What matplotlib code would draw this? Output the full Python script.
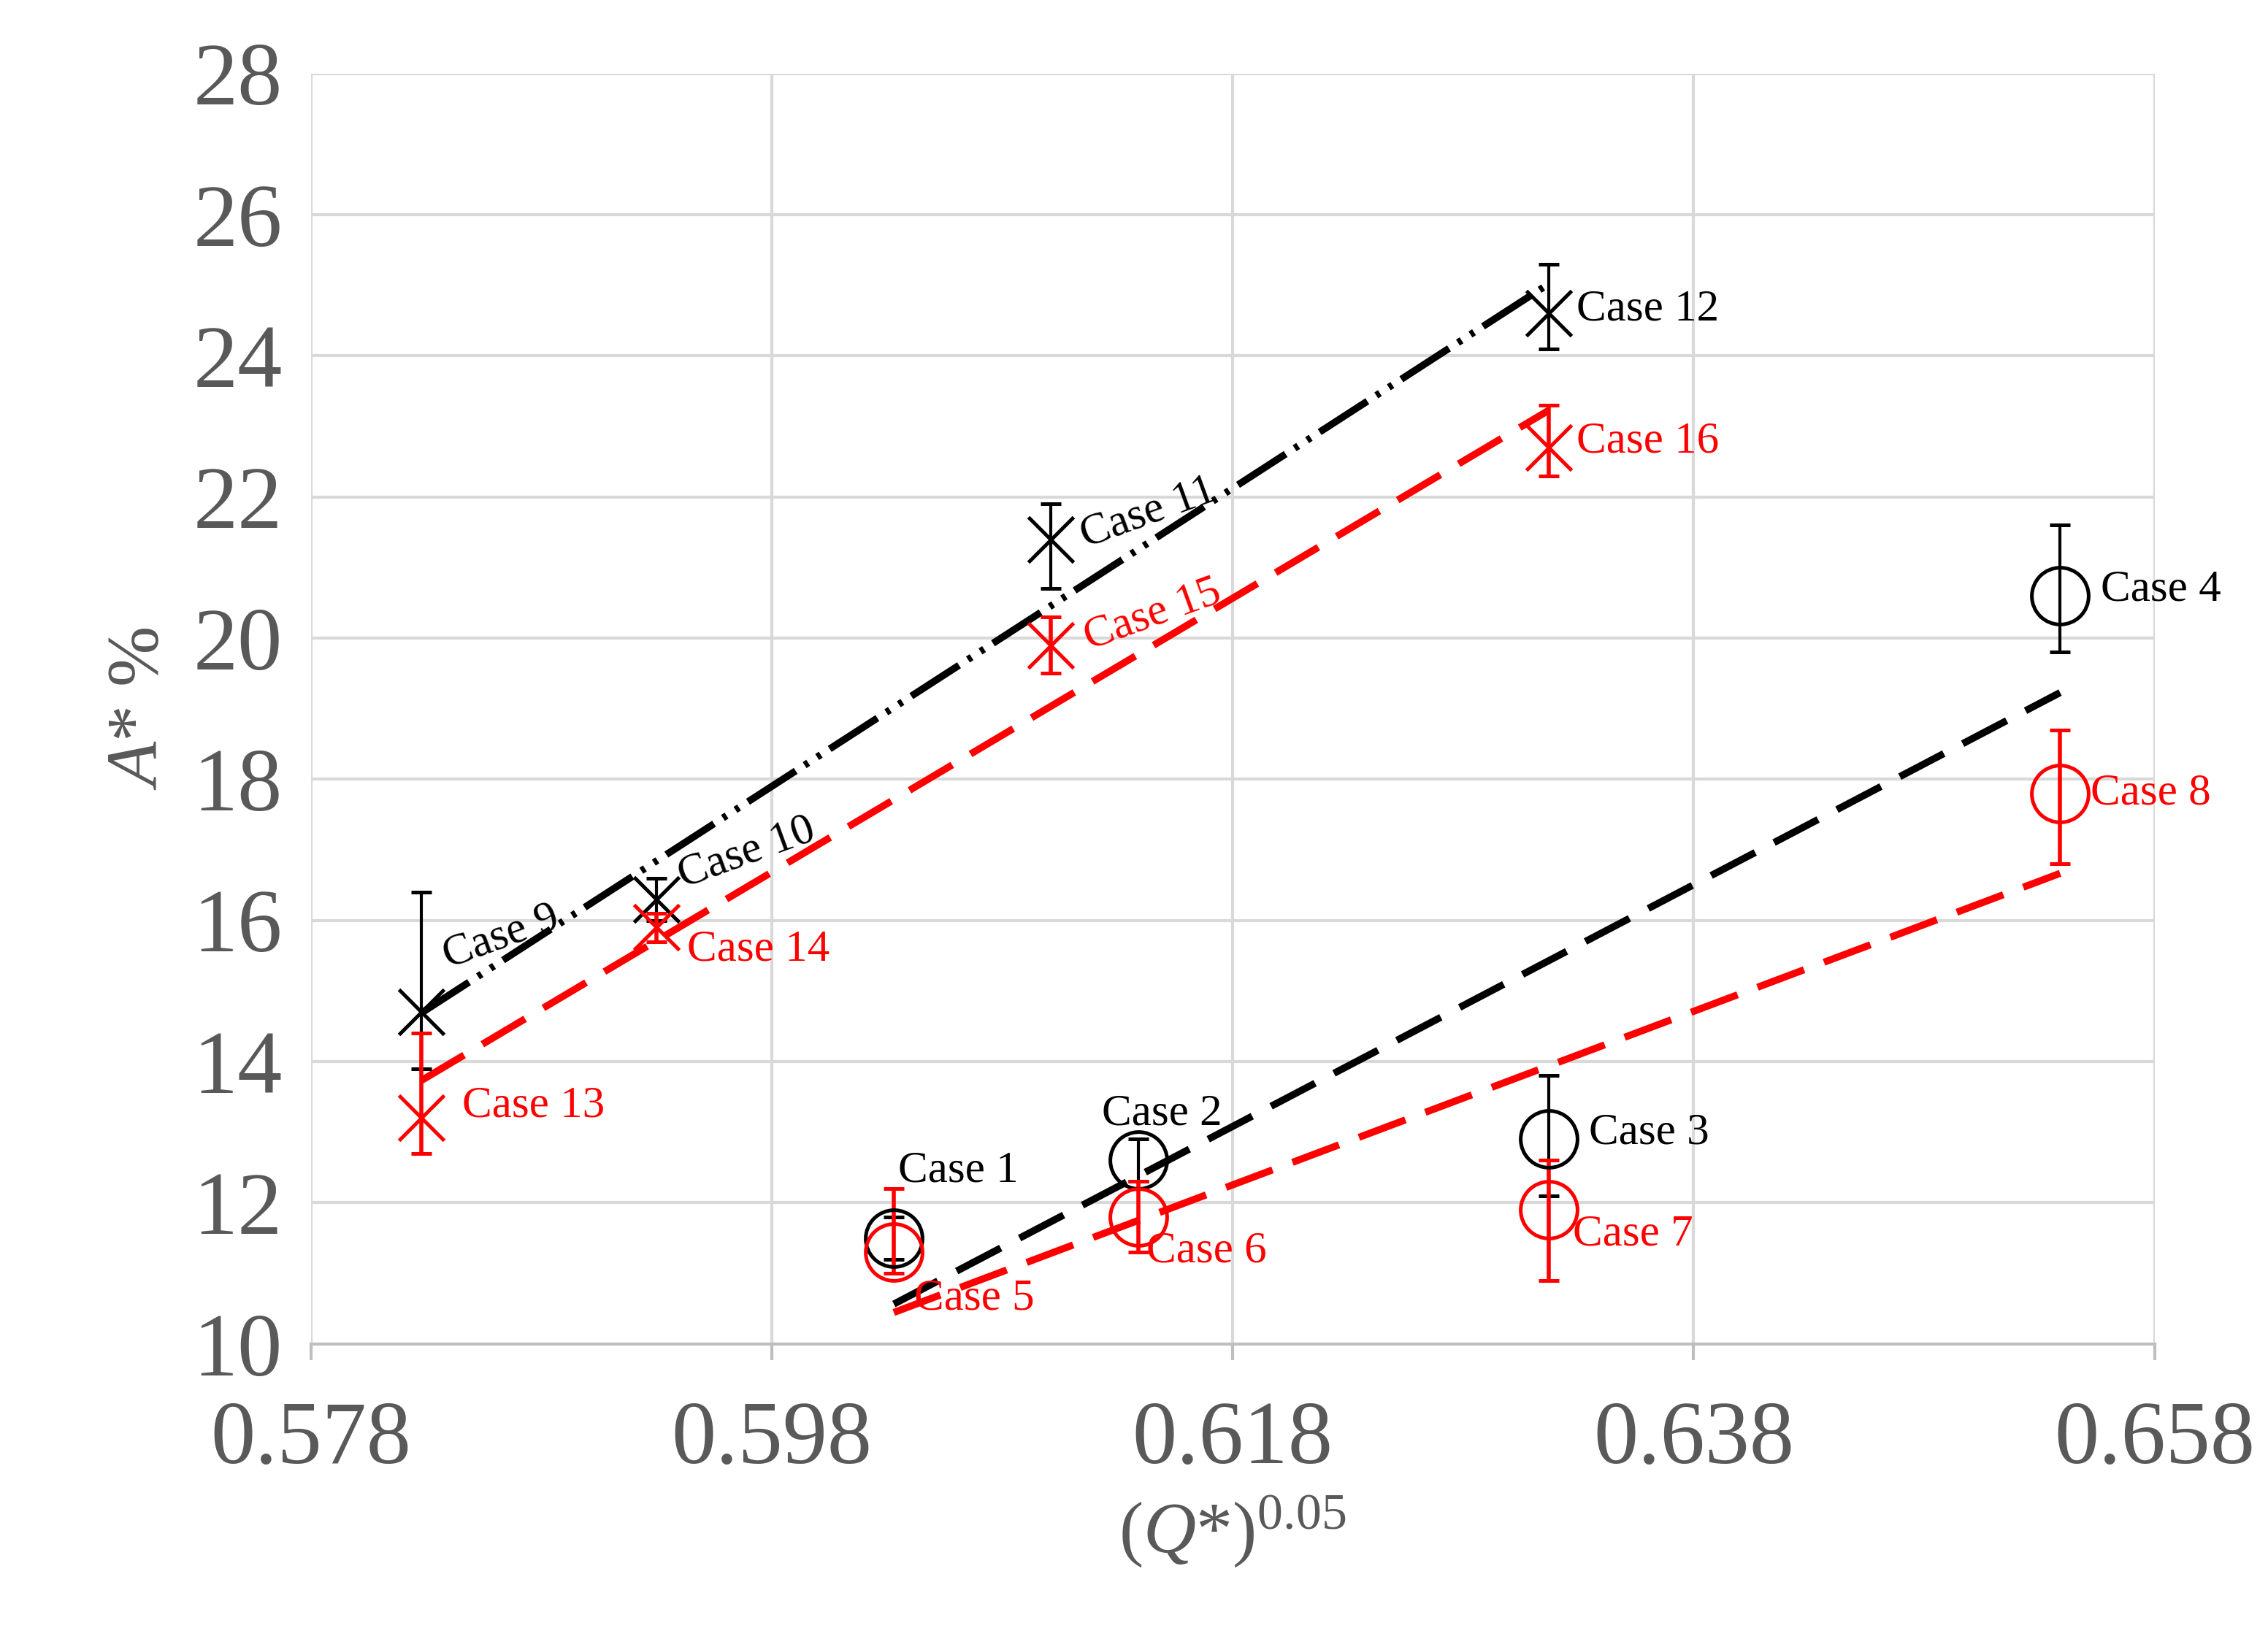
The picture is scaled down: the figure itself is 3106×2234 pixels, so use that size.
import matplotlib
matplotlib.use("Agg")
import matplotlib.pyplot as plt
import numpy as np

plt.rcParams['font.family'] = ['Liberation Serif', 'DejaVu Serif']
plt.rcParams['mathtext.fontset'] = 'custom'
plt.rcParams['mathtext.rm'] = 'Liberation Serif'
plt.rcParams['mathtext.it'] = 'Liberation Serif:italic'

# circle series
xc = [0.6033, 0.6139, 0.6317, 0.6539]
yc_black = [11.5, 12.6, 12.9, 20.6]
ec_black_lo = [0.3, 0.3, 0.8, 0.8]
ec_black_hi = [0.3, 0.3, 0.9, 1.0]
yc_red = [11.3, 11.8, 11.9, 17.8]
ec_red_lo = [0.3, 0.5, 1.0, 1.0]
ec_red_hi = [0.9, 0.5, 0.7, 0.9]
# cross series
xx = [0.5828, 0.5930, 0.6101, 0.6317]
yx_black = [14.7, 16.3, 21.4, 24.6]
ex_black_lo = [0.8, 0.3, 0.7, 0.5]
ex_black_hi = [1.7, 0.3, 0.5, 0.7]
yx_red = [13.2, 15.9, 19.9, 22.7]
ex_red_lo = [0.5, 0.2, 0.4, 0.4]
ex_red_hi = [1.2, 0.2, 0.4, 0.6]

labels_cb = ["Case 1", "Case 2", "Case 3", "Case 4"]
labels_cr = ["Case 5", "Case 6", "Case 7", "Case 8"]
labels_xb = ["Case 9", "Case 10", "Case 11", "Case 12"]
labels_xr = ["Case 13", "Case 14", "Case 15", "Case 16"]

fig = plt.figure(figsize=(15.53, 11.17), dpi=200)
ax = fig.add_axes([0.137, 0.176, 0.813, 0.779])
ax.set_xlim(0.578, 0.658)
ax.set_ylim(10, 28)
ax.set_xticks(np.arange(0.578, 0.6581, 0.02))
ax.set_xticklabels(["0.578", "0.598", "0.618", "0.638", "0.658"])
ax.set_yticks(range(10, 29, 2))
ax.grid(True, color='#d9d9d9', lw=1.5)
ax.set_axisbelow(True)
for s in ['top', 'right', 'left']:
    ax.spines[s].set_visible(False)
ax.spines['bottom'].set_color('#bfbfbf')
ax.spines['bottom'].set_linewidth(1.5)
ax.tick_params(length=0, labelsize=44, colors='#595959', pad=14)
ax.tick_params(axis='x', length=8, color='#bfbfbf', width=1.5, pad=20)

def trend(x, y, color, ls):
    p = np.polyfit(x, y, 1)
    xs = np.array([min(x), max(x)])
    ax.plot(xs, np.polyval(p, xs), color=color, ls=ls, lw=3.5, zorder=2)

trend(xc, yc_black, 'black', (0, (7, 3)))
trend(xc, yc_red, 'red', (0, (7, 3)))
trend(xx, yx_black, 'black', (0, (8, 1.5, 0.6, 1.5, 0.6, 1.5)))
trend(xx, yx_red, 'red', (0, (7, 3)))

ax.errorbar(xc, yc_black, yerr=[ec_black_lo, ec_black_hi], fmt='o', ms=28, mfc='none', mec='black', mew=1.8, ecolor='black', elinewidth=1.5, capsize=5, zorder=3)
ax.errorbar(xc, yc_red, yerr=[ec_red_lo, ec_red_hi], fmt='o', ms=28, mfc='none', mec='red', mew=1.8, ecolor='red', elinewidth=2, capsize=5, zorder=3)
ax.errorbar(xx, yx_black, yerr=[ex_black_lo, ex_black_hi], fmt='x', ms=22, mec='black', mew=1.8, ecolor='black', elinewidth=1.5, capsize=5, zorder=3)
ax.errorbar(xx, yx_red, yerr=[ex_red_lo, ex_red_hi], fmt='x', ms=22, mec='red', mew=1.8, ecolor='red', elinewidth=2, capsize=5, zorder=3)

fs = 22
def lab(x, y, t, c, dx, dy, rot=0):
    ax.annotate(t, (x, y), xytext=(dx, dy), textcoords='offset points', color=c, fontsize=fs, rotation=rot, ha='left', va='center')

lab(xc[0], yc_black[0], labels_cb[0], 'black', 2, 33)
lab(xc[1], yc_black[1], labels_cb[1], 'black', -18, 23)
lab(xc[2], yc_black[2], labels_cb[2], 'black', 20, 3)
lab(xc[3], yc_black[3], labels_cb[3], 'black', 20, 3)
lab(xc[0], yc_red[0], labels_cr[0], 'red', 10, -23)
lab(xc[1], yc_red[1], labels_cr[1], 'red', 4, -17)
lab(xc[2], yc_red[2], labels_cr[2], 'red', 12, -12)
lab(xc[3], yc_red[3], labels_cr[3], 'red', 15, 0)
lab(xx[0], yx_black[0], labels_xb[0], 'black', 8, 37, 20)
lab(xx[1], yx_black[1], labels_xb[1], 'black', 8, 23, 20)
lab(xx[2], yx_black[2], labels_xb[2], 'black', 12, 13, 20)
lab(xx[3], yx_black[3], labels_xb[3], 'black', 14, 2)
lab(xx[0], yx_red[0], labels_xr[0], 'red', 20, 6)
lab(xx[1], yx_red[1], labels_xr[1], 'red', 15, -11)
lab(xx[2], yx_red[2], labels_xr[2], 'red', 14, 15, 20)
lab(xx[3], yx_red[3], labels_xr[3], 'red', 14, 3)

ax.set_xlabel(r"$(Q{*})^{0.05}$", fontsize=36, color='#595959', labelpad=6)
ax.set_ylabel(r"$A{*}$ %", fontsize=36, color='#595959', labelpad=10)
fig.savefig("out.png", dpi=200)
